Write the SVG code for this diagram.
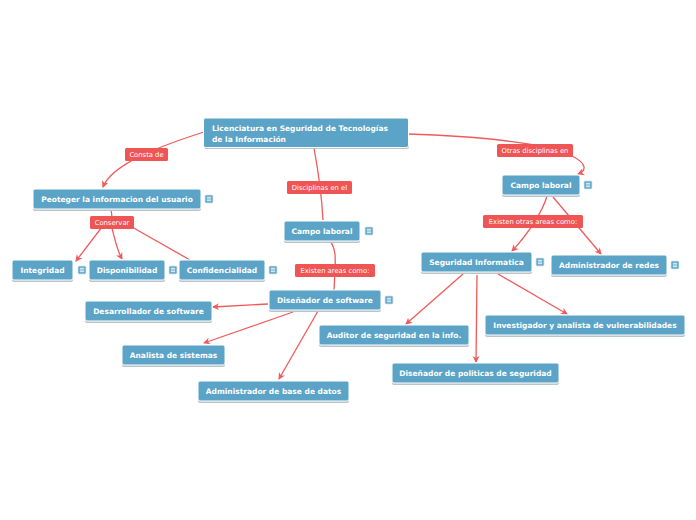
<svg xmlns="http://www.w3.org/2000/svg" width="696" height="520" viewBox="0 0 696 520">
<style>
.n{fill:#5ba4c7;stroke:#ffffff;stroke-width:1}
.sh{fill:#b9c3c9}
.t{font-family:"DejaVu Sans",Verdana,sans-serif;font-weight:bold;font-size:7.5px;fill:#ffffff;text-anchor:middle}
.tl{font-family:"DejaVu Sans",Verdana,sans-serif;font-weight:bold;font-size:7.5px;fill:#ffffff}
.lb{fill:#f05555}
.lt{font-family:"DejaVu Sans",Verdana,sans-serif;font-size:6.8px;fill:#ffffff;text-anchor:middle}
.c{fill:none;stroke:#f05a5a;stroke-width:1.3}
.ic{fill:#5ba4c7;stroke:#d6e6ef;stroke-width:0.8}
.il{stroke:#ffffff;stroke-width:0.9}
</style>
<defs>
<marker id="a" markerWidth="8" markerHeight="8" refX="6" refY="4" orient="auto" markerUnits="userSpaceOnUse">
<path d="M0,0.5 L7,4 L0,7.5 L2,4 z" fill="#f05a5a"/>
</marker>
<g id="note">
<rect class="ic" x="0" y="0" width="8" height="8" rx="1"/>
<line class="il" x1="1.8" y1="2.3" x2="6.2" y2="2.3"/>
<line class="il" x1="1.8" y1="4" x2="6.2" y2="4"/>
<line class="il" x1="1.8" y1="5.7" x2="6.2" y2="5.7"/>
</g>
</defs>
<rect width="696" height="520" fill="#ffffff"/>
<g id="connectors">
<path class="c" d="M204,132 C160,146 112,164 103,187" marker-end="url(#a)"/>
<path class="c" d="M314,148 C318,170 322,200 323,220"/>
<path class="c" d="M408,134 C470,136 545,142 572,156 C588,164 586,171 578,174" marker-end="url(#a)"/>
<path class="c" d="M330,241 C337,250 335,262 335,272 L334,290"/>
<path class="c" d="M111,209 L112,217"/>
<path class="c" d="M102,227 L76,261" marker-end="url(#a)"/>
<path class="c" d="M112,228 C115,240 117,250 122,259" marker-end="url(#a)"/>
<path class="c" d="M132,227 L190,260"/>
<path class="c" d="M268,304 L213,307" marker-end="url(#a)"/>
<path class="c" d="M293,312 L204,343" marker-end="url(#a)"/>
<path class="c" d="M318,311 L279,379" marker-end="url(#a)"/>
<path class="c" d="M547,196 C543,210 530,232 512,251" marker-end="url(#a)"/>
<path class="c" d="M553,197 L601,254" marker-end="url(#a)"/>
<path class="c" d="M463,274 L406,324" marker-end="url(#a)"/>
<path class="c" d="M477,275 L476,362" marker-end="url(#a)"/>
<path class="c" d="M498,274 L567,314" marker-end="url(#a)"/>
</g>
<g id="lbl-consta"><rect class="lb" x="125" y="148" width="43" height="13" rx="1.5"/><text class="lt" x="146.5" y="157.2">Consta de</text></g>
<g id="lbl-disciplinas"><rect class="lb" x="287" y="181" width="65" height="13" rx="1.5"/><text class="lt" x="319.5" y="190.2">Disciplinas en el</text></g>
<g id="lbl-otras"><rect class="lb" x="497" y="144" width="76" height="13" rx="1.5"/><text class="lt" x="535" y="153.2">Otras disciplinas en</text></g>
<g id="lbl-conservar"><rect class="lb" x="90" y="216" width="44" height="13" rx="1.5"/><text class="lt" x="112" y="225.2">Conservar</text></g>
<g id="lbl-existen"><rect class="lb" x="295" y="264" width="80" height="13" rx="1.5"/><text class="lt" x="335" y="273.2">Existen areas como:</text></g>
<g id="lbl-existen-otras"><rect class="lb" x="483" y="215" width="100" height="13" rx="1.5"/><text class="lt" x="533" y="224.2">Existen otras areas como:</text></g>

<g id="root"><rect class="sh" x="204" y="119" width="205" height="30" rx="2"/><rect class="n" x="203.5" y="118" width="205" height="29.5" rx="2" stroke="#d9e9f2"/><text class="tl" x="212" y="131">Licenciatura en Seguridad de Tecnologías</text><text class="tl" x="212" y="141.5">de la Información</text></g>
<g id="n-peoteger"><rect class="sh" x="33" y="190" width="168" height="21" rx="2"/><rect class="n" x="33" y="189" width="168" height="20" rx="2"/><text class="t" x="117" y="202">Peoteger la informacion del usuario</text><use href="#note" x="205" y="195"/></g>
<g id="n-integridad"><rect class="sh" x="12" y="261" width="61" height="21" rx="2"/><rect class="n" x="12" y="260" width="61" height="20" rx="2"/><text class="t" x="42.5" y="273">Integridad</text><use href="#note" x="78" y="266"/></g>
<g id="n-disponibilidad"><rect class="sh" x="89" y="261" width="76" height="21" rx="2"/><rect class="n" x="89" y="260" width="76" height="20" rx="2"/><text class="t" x="127" y="273">Disponibilidad</text><use href="#note" x="169" y="266"/></g>
<g id="n-confidencialidad"><rect class="sh" x="179" y="261" width="86" height="21" rx="2"/><rect class="n" x="179" y="260" width="86" height="20" rx="2"/><text class="t" x="222" y="273">Confidencialidad</text><use href="#note" x="269" y="266"/></g>
<g id="n-campo-mid"><rect class="sh" x="284" y="222" width="76" height="21" rx="2"/><rect class="n" x="284" y="221" width="76" height="20" rx="2"/><text class="t" x="322" y="234">Campo laboral</text><use href="#note" x="365" y="227"/></g>
<g id="n-disenador-sw"><rect class="sh" x="269" y="291" width="112" height="21" rx="2"/><rect class="n" x="269" y="290" width="112" height="20" rx="2"/><text class="t" x="325" y="303">Diseñador de software</text><use href="#note" x="385" y="296"/></g>
<g id="n-desarrollador"><rect class="sh" x="85" y="302" width="127" height="21" rx="2"/><rect class="n" x="85" y="301" width="127" height="20" rx="2"/><text class="t" x="148.5" y="314">Desarrollador de software</text></g>
<g id="n-analista"><rect class="sh" x="122" y="346" width="103" height="21" rx="2"/><rect class="n" x="122" y="345" width="103" height="20" rx="2"/><text class="t" x="173.5" y="358">Analista de sistemas</text></g>
<g id="n-admin-bd"><rect class="sh" x="198" y="382" width="151" height="21" rx="2"/><rect class="n" x="198" y="381" width="151" height="20" rx="2"/><text class="t" x="273.5" y="394">Administrador de base de datos</text></g>
<g id="n-campo-right"><rect class="sh" x="502" y="176" width="78" height="21" rx="2"/><rect class="n" x="502" y="175" width="78" height="20" rx="2"/><text class="t" x="541" y="188">Campo laboral</text><use href="#note" x="584" y="181"/></g>
<g id="n-seguridad"><rect class="sh" x="421" y="253" width="111" height="21" rx="2"/><rect class="n" x="421" y="252" width="111" height="20" rx="2"/><text class="t" x="476.5" y="265">Seguridad Informatica</text><use href="#note" x="536" y="258"/></g>
<g id="n-admin-redes"><rect class="sh" x="551" y="256" width="116" height="21" rx="2"/><rect class="n" x="551" y="255" width="116" height="20" rx="2"/><text class="t" x="609" y="268">Administrador de redes</text><use href="#note" x="671" y="261"/></g>
<g id="n-auditor"><rect class="sh" x="319" y="326" width="150" height="21" rx="2"/><rect class="n" x="319" y="325" width="150" height="20" rx="2"/><text class="t" x="394" y="338">Auditor de seguridad en la info.</text></g>
<g id="n-investigador"><rect class="sh" x="485" y="316" width="200" height="21" rx="2"/><rect class="n" x="485" y="315" width="200" height="20" rx="2"/><text class="t" x="585" y="328">Investigador y analista de vulnerabilidades</text></g>
<g id="n-disenador-pol"><rect class="sh" x="392" y="364" width="167" height="21" rx="2"/><rect class="n" x="392" y="363" width="167" height="20" rx="2"/><text class="t" x="475.5" y="376">Diseñador de politicas de seguridad</text></g>
</svg>
